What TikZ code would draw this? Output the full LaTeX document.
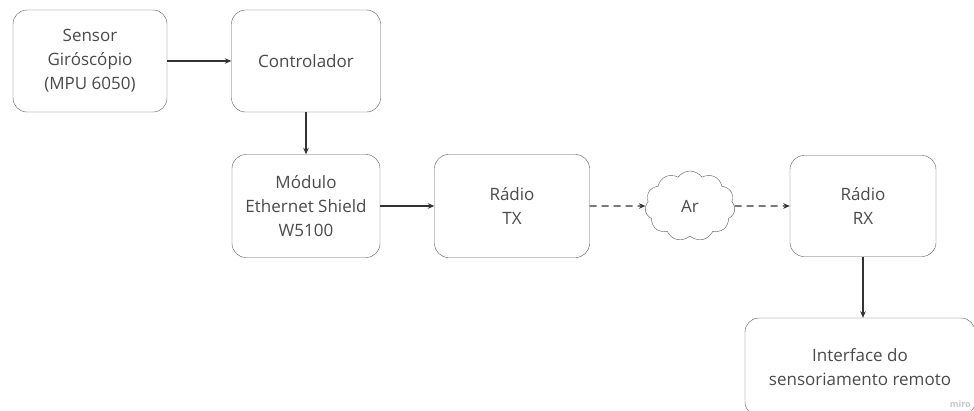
\documentclass[tikz,border=0pt]{standalone}
\usepackage{fontspec}
\setmainfont{Open Sans}
\usetikzlibrary{arrows.meta}
\usetikzlibrary{shapes.symbols}

\definecolor{borda}{HTML}{5A5A5A}
\definecolor{texto}{HTML}{4A4A4A}
\definecolor{ligacao}{HTML}{333333}

\tikzset{
  bloco/.style={draw=borda, rounded corners=14pt, inner sep=0pt, align=center,
    text=texto, font=\fontsize{17}{24}\selectfont},
  seta/.style={draw=ligacao, line width=1.1pt, -{Stealth[length=6.5pt,width=5.5pt]}},
  sinal/.style={seta, dashed, dash pattern=on 7pt off 5pt},
}

\begin{document}
\begin{tikzpicture}[x=1pt, y=-1pt]
\useasboundingbox (0,0) rectangle (974,410);
\begin{scope}
\clip (0,0) rectangle (974,410);
% blocos do sistema
\node[bloco, minimum width=154pt, minimum height=102pt] (sensor) at (90,61)
  {Sensor\\Giróscópio\\(MPU 6050)};
\node[bloco, minimum width=149pt, minimum height=102pt] (ctrl) at (306,61)
  {Controlador};
\node[bloco, minimum width=148pt, minimum height=103pt] (eth) at (306,206)
  {Módulo\\Ethernet Shield\\W5100};
\node[bloco, minimum width=155pt, minimum height=103pt] (tx) at (512,206)
  {Rádio\\TX};
\node[cloud, cloud puffs=11, cloud puff arc=110, aspect=1.3, draw=borda,
  minimum width=90pt, minimum height=70pt, inner sep=0pt, text=texto,
  font=\fontsize{17}{24}\selectfont] (ar) at (690,206) {Ar};
\node[bloco, minimum width=146pt, minimum height=101pt] (rx) at (863,206)
  {Rádio\\RX};
\node[bloco, minimum width=230pt, minimum height=98pt] (iface) at (860,367)
  {Interface do\\sensoriamento remoto};
% ligacoes
\draw[seta] (sensor) -- (ctrl);
\draw[seta] (ctrl) -- (eth);
\draw[seta] (eth) -- (tx);
\draw[sinal] (tx) -- (ar);
\draw[sinal] (ar) -- (rx);
\draw[seta] (rx.south) -- (rx.south |- iface.north);
\end{scope}
\node[anchor=south east, inner sep=1pt, text=gray!45,
  font=\fontsize{9}{9}\selectfont\bfseries] (miro) at (972,409) {miro};
\end{tikzpicture}
\end{document}
